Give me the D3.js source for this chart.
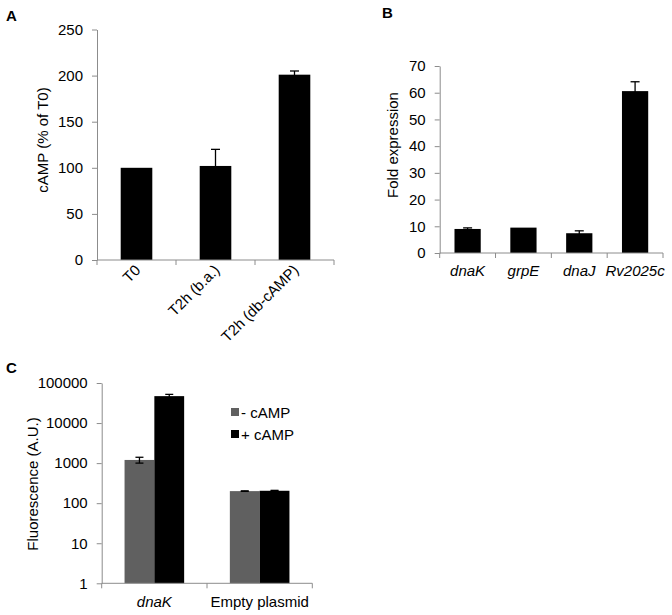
<!DOCTYPE html>
<html><head><meta charset="utf-8">
<script src="https://cdn.jsdelivr.net/npm/d3@7"></script>
<style>
body{margin:0;background:#fff;}
svg{display:block;font-family:"Liberation Sans",Arial,sans-serif;}
</style></head>
<body>
<script>
// Panel A data
const catsA = ["T0", "T2h (b.a.)", "T2h (db-cAMP)"];
const valsA = [100, 102, 201];
const errA = [0, 18, 4];
const ticksA = [0, 50, 100, 150, 200, 250];

// Panel B data
const catsB = ["dnaK", "grpE", "dnaJ", "Rv2025c"];
const valsB = [9.0, 9.5, 7.4, 60.6];
const errB = [0.4, 0, 0.9, 3.5];
const ticksB = [0, 10, 20, 30, 40, 50, 60, 70];

// Panel C data
const catsC = ["dnaK", "Empty plasmid"];
const seriesC = ["- cAMP", "+ cAMP"];
const valsCminus = [1200, 200];
const valsCplus = [47000, 204];
const errCminus = [200, 3];
const errCplus = [5000, 5];
const ticksC = [1, 10, 100, 1000, 10000, 100000];

const axisColor = "#8c8c8c";
const grey = "#606060";
const fs = 15;

const svg = d3.select("body").append("svg").attr("width", 672).attr("height", 615);

function yAxis(g, y, ticks, fmt) {
  const ax = g.append("g")
    .call(d3.axisLeft(y).tickValues(ticks).tickSize(5).tickSizeOuter(0).tickPadding(9).tickFormat(fmt));
  ax.select(".domain").attr("stroke", axisColor);
  ax.selectAll(".tick line").attr("stroke", axisColor);
  ax.selectAll(".tick text").attr("fill", "#000").attr("font-size", fs).attr("font-family", "Liberation Sans, Arial, sans-serif");
  return ax;
}
function xAxisEdges(g, x, y0, cats) {
  const r = x.range();
  g.append("line").attr("x1", r[0]).attr("x2", r[1]).attr("y1", y0).attr("y2", y0).attr("stroke", axisColor);
  const edges = cats.map(c => x(c)).concat([r[1]]);
  g.selectAll(null).data(edges).join("line")
    .attr("x1", d => d).attr("x2", d => d).attr("y1", y0).attr("y2", y0 + 5).attr("stroke", axisColor);
}
function errBars(g, xs, y, vals, errs, capW) {
  vals.forEach((v, i) => {
    if (!errs[i]) return;
    const x = xs[i];
    const yt = y(v + errs[i]), yb = y(Math.max(v - errs[i], 1e-9));
    g.append("line").attr("x1", x).attr("x2", x).attr("y1", yt).attr("y2", yb).attr("stroke", "#000").attr("stroke-width", 1.3);
    g.append("line").attr("x1", x - capW/2).attr("x2", x + capW/2).attr("y1", yt).attr("y2", yt).attr("stroke", "#000").attr("stroke-width", 1.3);
    g.append("line").attr("x1", x - capW/2).attr("x2", x + capW/2).attr("y1", yb).attr("y2", yb).attr("stroke", "#000").attr("stroke-width", 1.3);
  });
}

// ---------- Panel A ----------
{
  const g = svg.append("g");
  const x = d3.scaleBand().domain(catsA).range([97, 334]).padding(0);
  const y = d3.scaleLinear().domain([0, 250]).range([260, 29.5]);
  const bw = x.bandwidth() * 0.4;
  g.selectAll("rect.bar").data(catsA).join("rect")
    .attr("x", d => x(d) + (x.bandwidth() - bw) / 2)
    .attr("y", (d, i) => y(valsA[i]))
    .attr("width", bw)
    .attr("height", (d, i) => y(0) - y(valsA[i]))
    .attr("fill", "#000");
  errBars(g, catsA.map(c => x(c) + x.bandwidth() / 2), y, valsA, errA, 9);
  yAxis(g.append("g").attr("transform", "translate(97,0)"), y, ticksA, d3.format("d"));
  xAxisEdges(g, x, 260, catsA);
  g.selectAll("text.xl").data(catsA).join("text")
    .attr("transform", d => `translate(${x(d) + x.bandwidth() / 2 + 5},${271}) rotate(-45)`)
    .attr("text-anchor", "end").attr("font-size", fs).text(d => d);
  g.append("text").attr("transform", "translate(48,140) rotate(-90)")
    .attr("text-anchor", "middle").attr("font-size", fs).text("cAMP (% of T0)");
  svg.append("text").attr("x", 6).attr("y", 21).attr("font-size", 15).attr("font-weight", "bold").text("A");
}

// ---------- Panel B ----------
{
  const g = svg.append("g");
  const x = d3.scaleBand().domain(catsB).range([439.7, 663]).padding(0);
  const y = d3.scaleLinear().domain([0, 70]).range([253, 66]);
  const bw = x.bandwidth() * 0.47;
  g.selectAll("rect.bar").data(catsB).join("rect")
    .attr("x", d => x(d) + (x.bandwidth() - bw) / 2)
    .attr("y", (d, i) => y(valsB[i]))
    .attr("width", bw)
    .attr("height", (d, i) => y(0) - y(valsB[i]))
    .attr("fill", "#000");
  errBars(g, catsB.map(c => x(c) + x.bandwidth() / 2), y, valsB, errB, 9);
  yAxis(g.append("g").attr("transform", "translate(439.7,0)"), y, ticksB, d3.format("d"));
  xAxisEdges(g, x, 253, catsB);
  g.selectAll("text.xl").data(catsB).join("text")
    .attr("x", d => x(d) + x.bandwidth() / 2).attr("y", 276)
    .attr("text-anchor", "middle").attr("font-size", fs).attr("font-style", "italic").text(d => d);
  g.append("text").attr("transform", "translate(398,145) rotate(-90)")
    .attr("text-anchor", "middle").attr("font-size", fs).text("Fold expression");
  svg.append("text").attr("x", 382).attr("y", 17.5).attr("font-size", 15).attr("font-weight", "bold").text("B");
}

// ---------- Panel C ----------
{
  const g = svg.append("g");
  const x = d3.scaleBand().domain(catsC).range([101.7, 312.3]).padding(0);
  const xs = d3.scaleBand().domain(seriesC).range([0, x.bandwidth() * 0.566]).padding(0);
  const off = (x.bandwidth() - x.bandwidth() * 0.566) / 2;
  const y = d3.scaleLog().domain([1, 100000]).range([583.3, 383]);
  const colors = { "- cAMP": grey, "+ cAMP": "#000" };
  const vals = { "- cAMP": valsCminus, "+ cAMP": valsCplus };
  const errs = { "- cAMP": errCminus, "+ cAMP": errCplus };
  seriesC.forEach(s => {
    g.selectAll(null).data(catsC).join("rect")
      .attr("x", d => x(d) + off + xs(s))
      .attr("y", (d, i) => y(vals[s][i]))
      .attr("width", xs.bandwidth())
      .attr("height", (d, i) => y(1) - y(vals[s][i]))
      .attr("fill", colors[s]);
  });
  seriesC.forEach(s => {
    errBars(g, catsC.map(c => x(c) + off + xs(s) + xs.bandwidth() / 2), y, vals[s], errs[s], 8);
  });
  yAxis(g.append("g").attr("transform", "translate(101.7,0)"), y, ticksC, d3.format("d"));
  xAxisEdges(g, x, 583.3, catsC);
  g.selectAll("text.xl").data(catsC).join("text")
    .attr("x", d => x(d) + x.bandwidth() / 2).attr("y", 607)
    .attr("text-anchor", "middle").attr("font-size", fs)
    .attr("font-style", (d, i) => i === 0 ? "italic" : "normal").text(d => d);
  g.append("text").attr("transform", "translate(38,484) rotate(-90)")
    .attr("text-anchor", "middle").attr("font-size", fs).text("Fluorescence  (A.U.)");
  const lg = g.append("g");
  seriesC.forEach((s, i) => {
    lg.append("rect").attr("x", 231).attr("y", 408 + i * 22).attr("width", 8).attr("height", 8).attr("fill", colors[s]);
    lg.append("text").attr("x", 241).attr("y", 418 + i * 22).attr("font-size", fs).text(s);
  });
  svg.append("text").attr("x", 6).attr("y", 373).attr("font-size", 15).attr("font-weight", "bold").text("C");
}
</script>
</body></html>
